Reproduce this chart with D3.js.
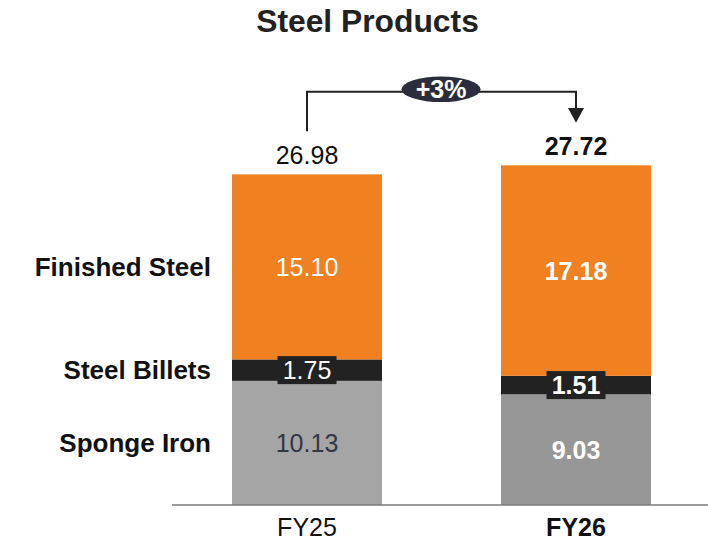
<!DOCTYPE html>
<html>
<head>
<meta charset="utf-8">
<script src="https://cdn.jsdelivr.net/npm/d3@7"></script>
<style>
  html, body { margin: 0; padding: 0; background: #ffffff; }
  svg { display: block; font-family: "Liberation Sans", Arial, sans-serif; }
</style>
</head>
<body>
<svg id="chart" width="708" height="540"></svg>
<script>
// Steel products volume by year, stacked bottom to top
const years = ["FY25", "FY26"];
const segments = ["Sponge Iron", "Steel Billets", "Finished Steel"];
const spongeIron = [10.13, 9.03];
const steelBillets = [1.75, 1.51];
const finishedSteel = [15.10, 17.18];
const totals = [26.98, 27.72];
const growthLabel = "+3%";

const colors = {
  "Finished Steel": "#F08020",
  "Steel Billets": "#222222",
  "Sponge Iron": ["#A5A5A5", "#969696"]
};

const svg = d3.select("#chart");

const rows = years.map((yr, i) => ({
  year: yr,
  "Sponge Iron": spongeIron[i],
  "Steel Billets": steelBillets[i],
  "Finished Steel": finishedSteel[i],
  total: totals[i],
  idx: i
}));

const stack = d3.stack().keys(segments);
const series = stack(rows);

const baseY = 505;
const y = d3.scaleLinear().domain([0, 27.72]).range([baseY, 165.3]);
const x = d3.scalePoint().domain(years).range([307, 576]);
const bw = 150;
const cx = d => x(d);

// Title
svg.append("text")
  .attr("x", 367.5).attr("y", 32)
  .attr("text-anchor", "middle")
  .attr("font-size", 31.8).attr("font-weight", "bold")
  .attr("fill", "#222")
  .text("Steel Products");

// Stacked bars
const g = svg.append("g");
series.forEach(s => {
  g.selectAll(null)
    .data(s)
    .join("rect")
    .attr("x", d => cx(d.data.year) - bw / 2)
    .attr("width", bw)
    .attr("y", d => y(d[1]))
    .attr("height", d => y(d[0]) - y(d[1]))
    .attr("fill", d => s.key === "Sponge Iron" ? colors[s.key][d.data.idx] : colors[s.key]);
});

// Baseline axis
svg.append("line")
  .attr("x1", 172).attr("x2", 708)
  .attr("y1", baseY).attr("y2", baseY)
  .attr("stroke", "#7a7a7a").attr("stroke-width", 1.5);

// Year labels
svg.selectAll(".yr")
  .data(rows)
  .join("text")
  .attr("x", d => cx(d.year))
  .attr("y", 536)
  .attr("text-anchor", "middle")
  .attr("font-size", 25)
  .attr("font-weight", d => d.idx === 1 ? "bold" : "normal")
  .attr("fill", "#111")
  .text(d => d.year);

// Segment value labels
const fmt = d3.format(".2f");
series.forEach(s => {
  s.forEach(d => {
    const val = d[1] - d[0];
    const mid = (y(d[0]) + y(d[1])) / 2;
    const bold = d.data.idx === 1;
    const t = svg.append("text")
      .attr("x", cx(d.data.year))
      .attr("y", mid)
      .attr("dy", "0.36em")
      .attr("text-anchor", "middle")
      .attr("font-size", 25)
      .attr("font-weight", bold ? "bold" : "normal")
      .attr("fill", (s.key === "Sponge Iron" && !bold) ? "#333744" : "#ffffff")
      .text(fmt(val));
    if (s.key === "Steel Billets") {
      svg.insert("rect", () => t.node())
        .attr("x", cx(d.data.year) - 29.5)
        .attr("width", 59)
        .attr("y", mid - 14)
        .attr("height", 28)
        .attr("fill", colors["Steel Billets"]);
    }
  });
});

// Totals above bars
svg.selectAll(".tot")
  .data(rows)
  .join("text")
  .attr("x", d => cx(d.year))
  .attr("y", d => y(d.total) - 10.5)
  .attr("text-anchor", "middle")
  .attr("font-size", 25)
  .attr("font-weight", d => d.idx === 1 ? "bold" : "normal")
  .attr("fill", "#111")
  .text(d => fmt(d.total));

// Category labels on the left, aligned to the first bar's segments
series.forEach(s => {
  const d = s[0];
  svg.append("text")
    .attr("x", 211)
    .attr("y", (y(d[0]) + y(d[1])) / 2)
    .attr("dy", "0.36em")
    .attr("text-anchor", "end")
    .attr("font-size", 26)
    .attr("font-weight", "bold")
    .attr("fill", "#111")
    .text(s.key);
});

// Growth connector arrow
const x0 = cx(years[0]), x1 = cx(years[1]);
const lineY = 91.7;
svg.append("path")
  .attr("d", `M${x0},${y(totals[0]) - 43} V${lineY} H${x1} V${110}`)
  .attr("fill", "none")
  .attr("stroke", "#222")
  .attr("stroke-width", 2);
svg.append("path")
  .attr("d", `M${x1 - 8},108 L${x1 + 8},108 L${x1},122.7 Z`)
  .attr("fill", "#222");

svg.append("ellipse")
  .attr("cx", 441).attr("cy", 89.3)
  .attr("rx", 39.5).attr("ry", 12.8)
  .attr("fill", "#2B2D3C");
svg.append("text")
  .attr("x", 441).attr("y", 98.3)
  .attr("text-anchor", "middle")
  .attr("font-size", 25).attr("font-weight", "bold")
  .attr("fill", "#ffffff")
  .text(growthLabel);
</script>
</body>
</html>
